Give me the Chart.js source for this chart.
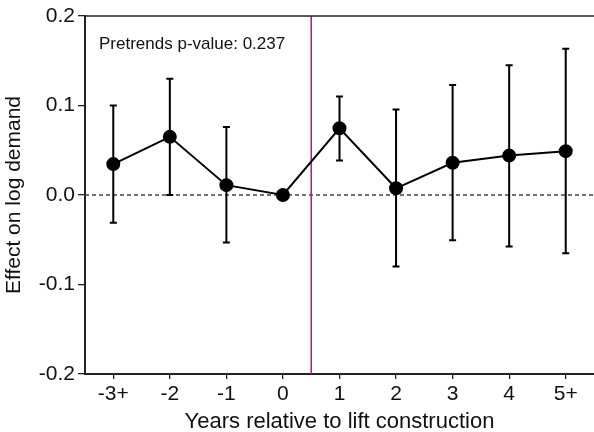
<!DOCTYPE html>
<html>
<head>
<meta charset="utf-8">
<script src="https://cdn.jsdelivr.net/npm/chart.js@4/dist/chart.umd.min.js"></script>
<style>
    body { margin: 0; background: #fff; }
    canvas { display: block; background: #fff; }
</style>
</head>
<body>
<canvas id="graficoEventStudy" width="594" height="432"></canvas>
<script>
// categorias do eixo x (anos relativos à construção)
const anos = ['-3+', '-2', '-1', '0', '1', '2', '3', '4', '5+'];
// coeficientes estimados
const estimativas = [0.0345, 0.065, 0.011, 0, 0.0745, 0.0075, 0.036, 0.044, 0.049];
// intervalos de confiança (0 é o ano de referência, sem intervalo)
const limiteInferior = [-0.031, 0.000, -0.053, null, 0.0385, -0.080, -0.0505, -0.0575, -0.065];
const limiteSuperior = [0.100, 0.130, 0.076, null, 0.110, 0.0955, 0.123, 0.145, 0.1635];
const ticksY = [-0.2, -0.1, 0.0, 0.1, 0.2];
const textoPretrends = 'Pretrends p-value: 0.237';
const indiceTratamento = 3.5; // entre 0 e 1

const FONTE = "'Liberation Sans', Arial, sans-serif";
const COR_EIXO = '#222';

// linhas de referência, barras de erro e borda superior
const pluginExtras = {
    id: 'extras',
    beforeDatasetsDraw(chart) {
        const ctx = chart.ctx;
        const x = chart.scales.x;
        const y = chart.scales.y;
        const area = chart.chartArea;

        ctx.save();

        // linha tracejada no zero
        const y0 = y.getPixelForValue(0);
        ctx.strokeStyle = '#444';
        ctx.lineWidth = 1.3;
        ctx.setLineDash([4, 3]);
        ctx.beginPath();
        ctx.moveTo(area.left, y0);
        ctx.lineTo(area.right, y0);
        ctx.stroke();
        ctx.setLineDash([]);

        // linha vertical do tratamento
        const xt = x.getPixelForValue(indiceTratamento);
        ctx.strokeStyle = '#b8157f';
        ctx.lineWidth = 1.5;
        ctx.beginPath();
        ctx.moveTo(xt, area.top);
        ctx.lineTo(xt, area.bottom);
        ctx.stroke();

        // barras de erro
        ctx.strokeStyle = '#000';
        ctx.lineWidth = 2;
        const cap = 3.5;
        anos.forEach((ano, i) => {
            if (limiteInferior[i] === null || limiteSuperior[i] === null) return;
            const px = x.getPixelForValue(i);
            const yLo = y.getPixelForValue(limiteInferior[i]);
            const yHi = y.getPixelForValue(limiteSuperior[i]);
            ctx.beginPath();
            ctx.moveTo(px, yLo);
            ctx.lineTo(px, yHi);
            ctx.moveTo(px - cap, yLo);
            ctx.lineTo(px + cap, yLo);
            ctx.moveTo(px - cap, yHi);
            ctx.lineTo(px + cap, yHi);
            ctx.stroke();
        });

        // borda superior
        ctx.strokeStyle = COR_EIXO;
        ctx.lineWidth = 1.3;
        ctx.beginPath();
        ctx.moveTo(area.left, area.top);
        ctx.lineTo(area.right, area.top);
        ctx.stroke();

        ctx.restore();
    },
    afterDraw(chart) {
        const ctx = chart.ctx;
        const area = chart.chartArea;
        ctx.save();
        ctx.fillStyle = '#111';
        ctx.font = '17px ' + FONTE;
        ctx.textAlign = 'left';
        ctx.textBaseline = 'alphabetic';
        ctx.fillText(textoPretrends, area.left + 14, area.top + 33);
        ctx.restore();
    }
};

const ctx = document.getElementById('graficoEventStudy').getContext('2d');
new Chart(ctx, {
    type: 'line',
    data: {
        labels: anos,
        datasets: [{
            data: estimativas,
            borderColor: '#000',
            backgroundColor: '#000',
            borderWidth: 2,
            pointRadius: 6,
            pointHoverRadius: 6,
            tension: 0,
            fill: false
        }]
    },
    plugins: [pluginExtras],
    options: {
        responsive: false,
        animation: false,
        layout: {
            autoPadding: false,
            padding: { top: 16, right: -2, bottom: 0, left: 0 }
        },
        plugins: {
            legend: { display: false },
            tooltip: { enabled: false }
        },
        scales: {
            x: {
                offset: true,
                grid: {
                    display: true,
                    drawOnChartArea: false,
                    drawTicks: true,
                    tickLength: 5,
                    color: COR_EIXO,
                    lineWidth: 1.3
                },
                border: { display: true, color: COR_EIXO, width: 2 },
                ticks: {
                    color: '#111',
                    font: { family: FONTE, size: 21 },
                    padding: 3,
                    maxRotation: 0
                },
                title: {
                    display: true,
                    text: 'Years relative to lift construction',
                    color: '#111',
                    font: { family: FONTE, size: 22 },
                    padding: { top: 0, bottom: -3 }
                },
                afterFit(scale) {
                    scale.height = 58;
                    // a área do gráfico vai até a borda direita do canvas
                    scale.paddingLeft = 0;
                    scale.paddingRight = -2;
                }
            },
            y: {
                min: -0.2,
                max: 0.2,
                grid: {
                    display: true,
                    drawOnChartArea: false,
                    drawTicks: true,
                    tickLength: 7,
                    color: COR_EIXO,
                    lineWidth: 1.3
                },
                border: { display: true, color: COR_EIXO, width: 2 },
                afterBuildTicks(scale) {
                    scale.ticks = ticksY.map(v => ({ value: v }));
                },
                ticks: {
                    color: '#111',
                    font: { family: FONTE, size: 21 },
                    padding: 3,
                    callback: v => Number(v).toFixed(1)
                },
                title: {
                    display: true,
                    text: 'Effect on log demand',
                    color: '#111',
                    font: { family: FONTE, size: 21 },
                    padding: { top: 2, bottom: 0 }
                },
                afterFit(scale) {
                    scale.width = 85;
                }
            }
        }
    }
});
</script>
</body>
</html>
